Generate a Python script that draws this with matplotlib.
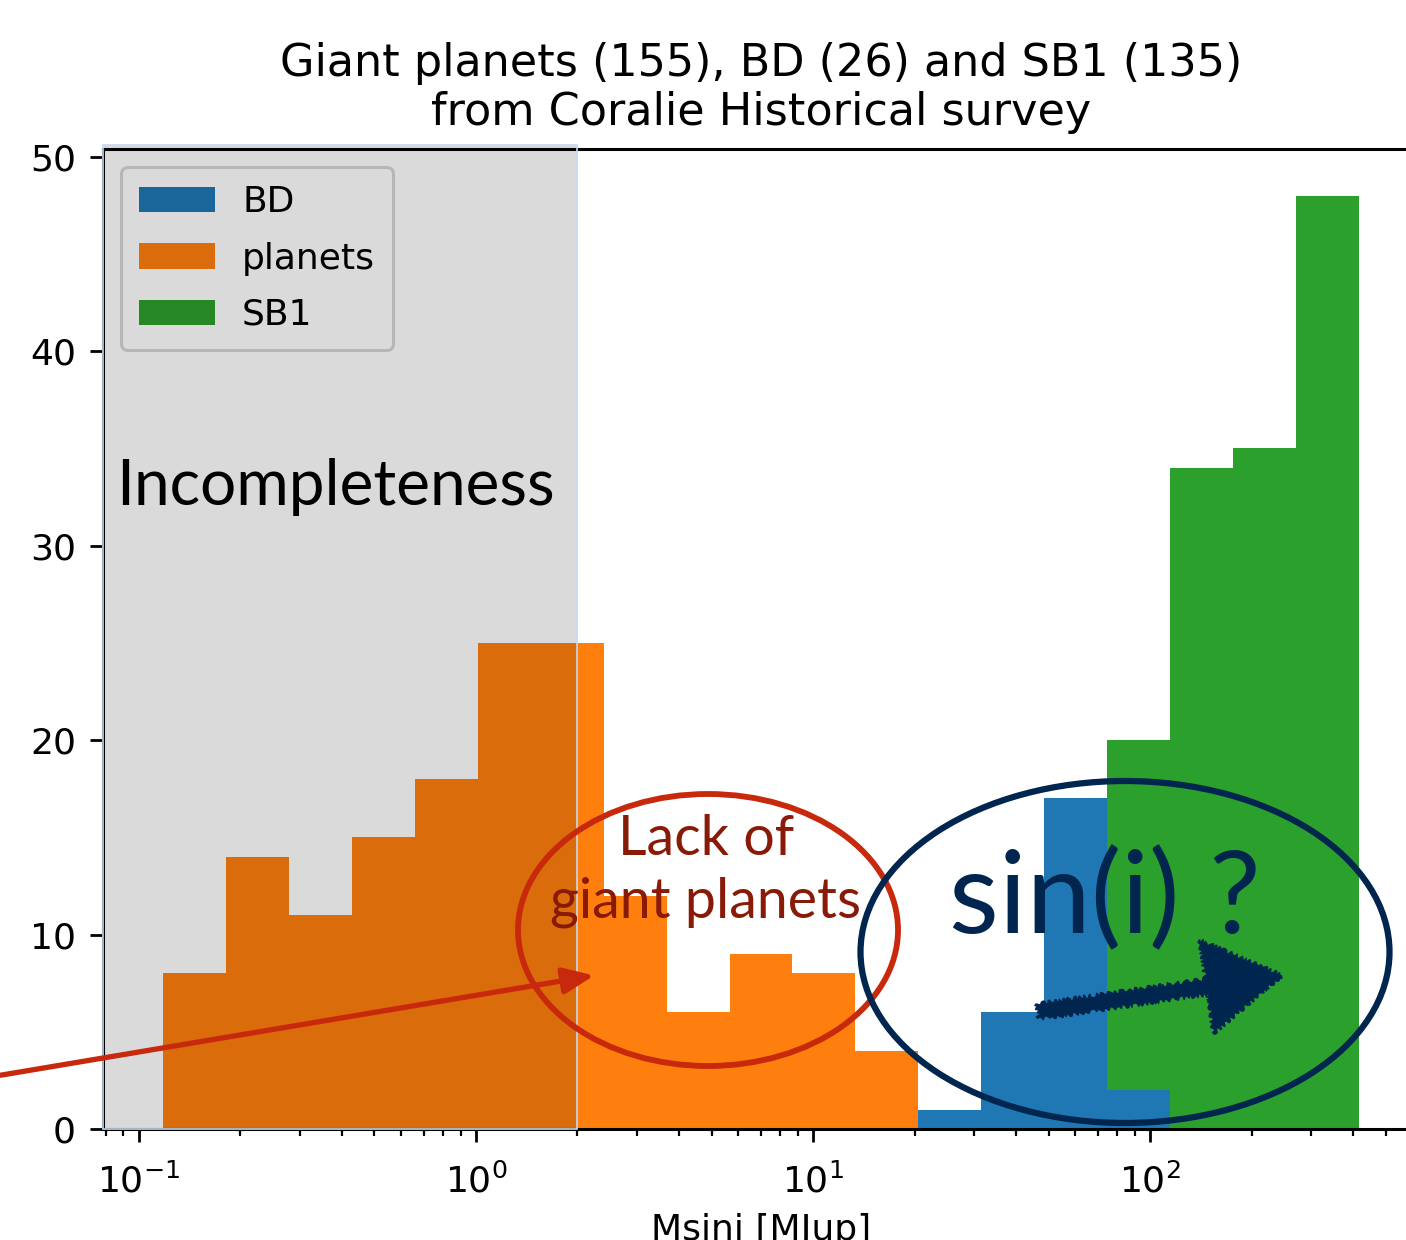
"""Msini histogram of giant planets, BD and SB1 from the Coralie survey"""

import numpy as np
import matplotlib
matplotlib.use("Agg")
import matplotlib.pyplot as plt
from matplotlib.patches import Ellipse, Rectangle, FancyArrowPatch

# log-spaced mass bins [MJup]
m_min, m_max, n_bins = 0.1178, 417.0, 19

# counts per bin
bd_counts = [0] * 12 + [1, 6, 17, 2] + [0] * 3
planet_counts = [8, 14, 11, 15, 18, 25, 25, 12, 6, 9, 8, 4] + [0] * 7
sb1_counts = [0] * 15 + [18, 34, 35, 48]
labels = ["BD", "planets", "SB1"]

incomplete_limit = 2.0  # MJup

W, H = 1406, 1240
fig = plt.figure(figsize=(W / 100, H / 100), dpi=100)
ax = fig.add_axes([103 / W, 1 - 1129 / H, (1419 - 103) / W, (1129 - 149) / H])

edges = np.logspace(np.log10(m_min), np.log10(m_max), n_bins + 1)
centers = np.sqrt(edges[:-1] * edges[1:])
ax.hist([centers] * 3, bins=edges,
        weights=[bd_counts, planet_counts, sb1_counts],
        stacked=True, label=labels, color=["C0", "C1", "C2"])
ax.set_xscale("log")

ax.set_title("Giant planets (155), BD (26) and SB1 (135)\nfrom Coralie Historical survey",
             fontsize=32, pad=17)
ax.set_xlabel("Msini [MJup]", fontsize=26, labelpad=10)
ax.tick_params(labelsize=26, width=2, length=9.5)
ax.tick_params(axis="y", pad=10)
ax.tick_params(axis="x", pad=15)
ax.tick_params(which="minor", width=1.6, length=5)
for s in ax.spines.values():
    s.set_linewidth(2.2)

leg = ax.legend(loc="upper left", fontsize=26, handlelength=2.1,
                borderpad=0.5, labelspacing=0.62, handletextpad=0.75,
                borderaxespad=0.5)
leg.get_frame().set_linewidth(2.2)

# shaded incompleteness zone, laid over the bars and the legend
shade = Rectangle((ax.get_xlim()[0], 0), incomplete_limit - ax.get_xlim()[0], 1.004,
                  transform=ax.get_xaxis_transform(), facecolor=(0, 0, 0, 0.145),
                  edgecolor="#c6d9f0", linewidth=1.2, zorder=6, clip_on=False)
ax.add_patch(shade)


def px(x, y):
    return (x / W, 1 - y / H)


fig.text(*px(116, 505), "Incompleteness", fontsize=46, family="Lato",
         va="baseline", ha="left", zorder=7)

navy = "#00264f"
red = "#c8290c"

# "lack of giant planets" callout
fig.text(*px(706, 855), "Lack of", fontsize=40, family="Lato", color="#8a1a08",
         ha="center", va="baseline")
fig.text(*px(706, 917), "giant planets", fontsize=40, family="Lato", color="#8a1a08",
         ha="center", va="baseline")
fig.add_artist(Ellipse(px(708, 930), 380 / W, 272 / H, transform=fig.transFigure,
                       fill=False, edgecolor=red, linewidth=4.2, zorder=8))
fig.add_artist(FancyArrowPatch(px(-10, 1077), px(597, 975), transform=fig.transFigure,
                               arrowstyle="-|>,head_length=0.85,head_width=0.36",
                               mutation_scale=22, color=red, linewidth=3.8, zorder=8))

# sin(i) callout
fig.text(*px(949, 933), "sin(i) ?", fontsize=83, family="Lato", color=navy,
         ha="left", va="baseline", zorder=7)
fig.add_artist(Ellipse(px(1125, 952), 529 / W, 342 / H, transform=fig.transFigure,
                       fill=False, edgecolor=navy, linewidth=4.5, zorder=8))
sketch = FancyArrowPatch(px(1035, 1012), px(1285, 975), transform=fig.transFigure,
                         arrowstyle="simple,head_length=0.55,head_width=0.68,tail_width=0.11",
                         mutation_scale=100, color=navy, linewidth=1, zorder=8)
sketch.set_sketch_params(scale=2, length=8, randomness=4)
fig.add_artist(sketch)

fig.savefig("out.png", dpi=100)
